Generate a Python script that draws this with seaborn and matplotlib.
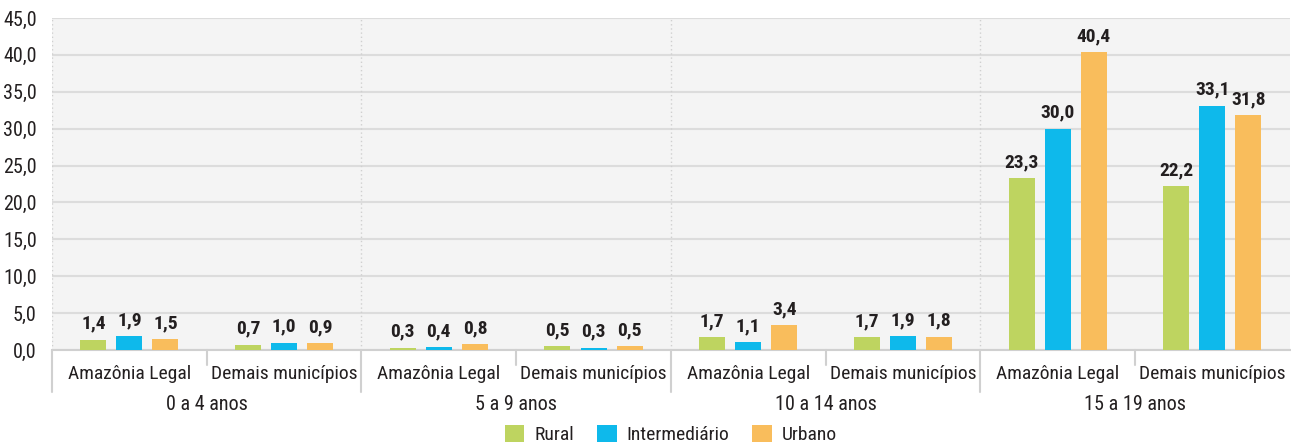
import matplotlib
matplotlib.use("Agg")
import matplotlib.pyplot as plt
import matplotlib.transforms as mtransforms
from matplotlib import font_manager
import numpy as np
import pandas as pd
import seaborn as sns

# data
age_groups = ["0 a 4 anos", "5 a 9 anos", "10 a 14 anos", "15 a 19 anos"]
regions = ["Amazônia Legal", "Demais municípios"]
series = ["Rural", "Intermediário", "Urbano"]
rural = [1.4, 0.7, 0.3, 0.5, 1.7, 1.7, 23.3, 22.2]
intermediario = [1.9, 1.0, 0.4, 0.3, 1.1, 1.9, 30.0, 33.1]
urbano = [1.5, 0.9, 0.8, 0.5, 3.4, 1.8, 40.4, 31.8]
y_ticks = [0, 5, 10, 15, 20, 25, 30, 35, 40, 45]

colors = ["#BED460", "#0EB9EB", "#F9BD5C"]
text_color = "#231f20"

sns.set_theme(style="white")

installed = {f.name for f in font_manager.fontManager.ttflist}
family = "DejaVu Sans"
for cand in ["Roboto Condensed", "Liberation Sans Narrow", "DejaVu Sans Condensed"]:
    if cand in installed:
        family = cand
        break
plt.rcParams["font.family"] = [family, "DejaVu Sans"]

keys = [a + "|" + r for a in age_groups for r in regions]
rows = []
for name, vals in zip(series, [rural, intermediario, urbano]):
    for k, v in zip(keys, vals):
        rows.append({"cat": k, "serie": name, "valor": v})
df = pd.DataFrame(rows)

fig, ax = plt.subplots(figsize=(12.91, 4.45), dpi=100)
fig.subplots_adjust(left=0.0403, right=0.999, top=0.9596, bottom=0.2135)
ax.set_facecolor("#f4f4f4")

sns.barplot(data=df, x="cat", y="valor", hue="serie", order=keys,
            hue_order=series, palette=colors, width=0.7, gap=0.28,
            saturation=1, errorbar=None, ax=ax, zorder=3, linewidth=0)

for cont, vals in zip(ax.containers, [rural, intermediario, urbano]):
    labels = [f"{v:.1f}".replace(".", ",") for v in vals]
    ax.bar_label(cont, labels=labels, padding=5, fontsize=14,
                 fontweight="bold", color=text_color)

ax.set_ylim(0, 45)
ax.set_xlim(-0.5, 7.5)
ax.set_yticks(y_ticks)
ax.set_yticklabels([f"{v:.1f}".replace(".", ",") for v in y_ticks],
                   fontsize=14.5, color=text_color)
ax.yaxis.grid(True, color="#dcdcdc", lw=1.5, zorder=0)
ax.tick_params(axis="y", length=0, pad=11)

for s in ["top", "right", "left"]:
    ax.spines[s].set_visible(False)
ax.spines["bottom"].set_color("#d0d0d0")
ax.spines["bottom"].set_linewidth(1.5)

# dotted separators between age groups
for x in [-0.5, 1.5, 3.5, 5.5]:
    ax.axvline(x, color="#d0d0d0", lw=1, ls=(0, (1, 2)), zorder=1)

# hierarchical x axis
ax.set_xticks(range(len(keys)))
ax.set_xticklabels([r for a in age_groups for r in regions],
                   fontsize=14, color=text_color)
ax.tick_params(axis="x", length=0, pad=11)
ax.set_xlabel("")
ax.set_ylabel("")

trans = mtransforms.blended_transform_factory(ax.transData, ax.transAxes)
for x in [0.5, 2.5, 4.5, 6.5]:
    ax.plot([x, x], [0, -0.045], transform=trans, color="#d0d0d0",
            lw=1.5, clip_on=False)
for x in [-0.5, 1.5, 3.5, 5.5]:
    ax.plot([x, x], [0, -0.127], transform=trans, color="#d0d0d0",
            lw=1.5, clip_on=False)
for i, a in enumerate(age_groups):
    ax.text(2 * i + 0.5, -0.165, a, transform=trans, ha="center",
            va="center", fontsize=14.5, color=text_color)

handles, lbls = ax.get_legend_handles_labels()
ax.legend(handles, lbls, loc="center", bbox_to_anchor=(0.5, -0.255),
          ncol=3, frameon=False, fontsize=14, handlelength=1.0,
          handleheight=1.0, columnspacing=1.2, handletextpad=0.5,
          labelcolor=text_color, borderpad=0.1)

fig.savefig("out.png", dpi=100)
